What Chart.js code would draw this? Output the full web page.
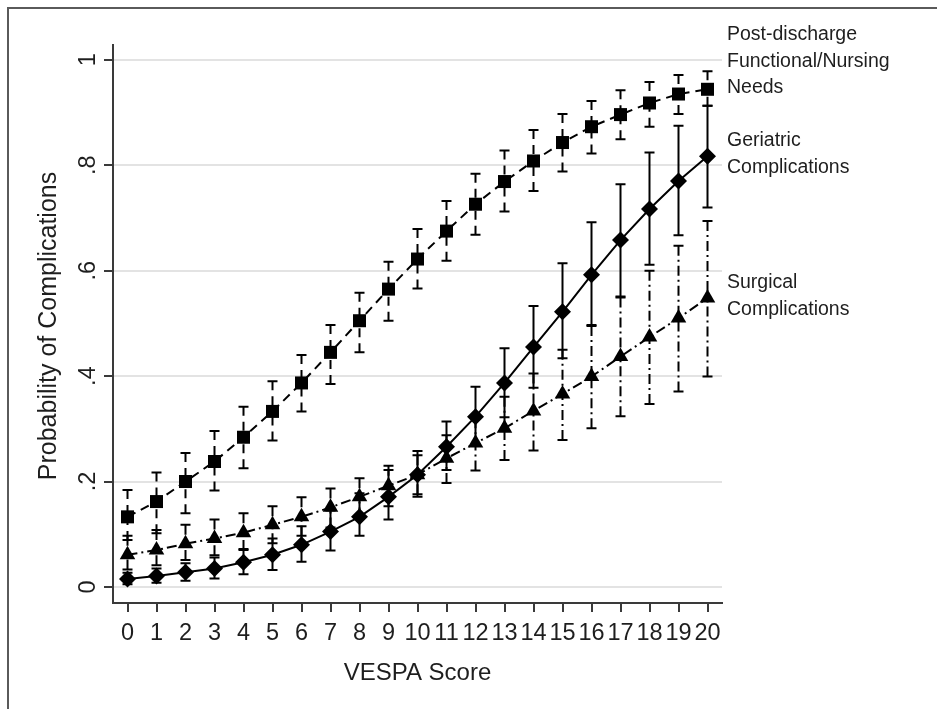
<!DOCTYPE html>
<html><head><meta charset="utf-8">
<script src="https://cdn.jsdelivr.net/npm/chart.js@4/dist/chart.umd.min.js"></script>
<style>html,body{margin:0;padding:0;background:#fff;}canvas{display:block;}</style>
</head><body>
<canvas id="c" width="937" height="709"></canvas>
<script>
// ---- data ----
const scores = [0,1,2,3,4,5,6,7,8,9,10,11,12,13,14,15,16,17,18,19,20];
const xTickLabels = scores.map(String);
const yTickValues = [0, 0.2, 0.4, 0.6, 0.8, 1];
const yTickLabels = ['0', '.2', '.4', '.6', '.8', '1'];
const xTitle = 'VESPA Score';
const yTitle = 'Probability of Complications';
const seriesLabels = [
  ['Post-discharge', 'Functional/Nursing', 'Needs'],
  ['Geriatric', 'Complications'],
  ['Surgical', 'Complications']
];

// Post-discharge functional / nursing needs (squares)
const needsEst = [0.133,0.162,0.200,0.238,0.284,0.333,0.387,0.445,0.505,0.565,0.622,0.675,0.726,0.769,0.808,0.843,0.873,0.896,0.918,0.935,0.944];
const needsLo  = [0.089,0.102,0.140,0.183,0.225,0.278,0.333,0.385,0.445,0.505,0.566,0.619,0.668,0.712,0.751,0.788,0.822,0.849,0.873,0.897,0.913];
const needsHi  = [0.184,0.217,0.254,0.296,0.342,0.390,0.440,0.497,0.558,0.617,0.679,0.732,0.784,0.828,0.867,0.897,0.922,0.942,0.958,0.971,0.978];

// Geriatric complications (diamonds)
const geriEst = [0.015,0.021,0.028,0.035,0.047,0.061,0.080,0.105,0.133,0.171,0.213,0.266,0.323,0.387,0.455,0.522,0.592,0.658,0.717,0.770,0.817];
const geriLo  = [0.005,0.008,0.012,0.016,0.024,0.032,0.048,0.069,0.097,0.128,0.171,0.222,0.270,0.322,0.378,0.434,0.497,0.551,0.611,0.667,0.720];
const geriHi  = [0.027,0.035,0.045,0.056,0.072,0.092,0.115,0.145,0.178,0.222,0.258,0.314,0.380,0.453,0.533,0.614,0.692,0.764,0.824,0.875,0.913];

// Surgical complications (triangles)
const surgEst = [0.061,0.070,0.082,0.092,0.103,0.118,0.133,0.151,0.171,0.192,0.213,0.244,0.273,0.301,0.334,0.366,0.399,0.437,0.474,0.510,0.548];
const surgLo  = [0.033,0.041,0.051,0.060,0.070,0.083,0.097,0.113,0.132,0.153,0.176,0.197,0.221,0.241,0.259,0.279,0.301,0.324,0.347,0.371,0.399];
const surgHi  = [0.097,0.108,0.118,0.128,0.140,0.153,0.170,0.187,0.206,0.230,0.250,0.288,0.320,0.361,0.405,0.450,0.495,0.549,0.600,0.647,0.694];

// ---- styling ----
const FONT = '"Liberation Sans", Arial, Helvetica, sans-serif';
const INK = '#1e1e1e';
const AXIS = '#3a3a3a';
const needsDash = [9, 6];
const surgDash = [10, 4, 2, 4];

const pts = arr => scores.map((s, i) => ({x: s, y: arr[i]}));

const errorBars = {
  id: 'errorBars',
  beforeDatasetsDraw(chart) {
    const {ctx, scales: {x, y}} = chart;
    const specs = [
      {est: needsEst, lo: needsLo, hi: needsHi, dash: needsDash},
      {est: geriEst, lo: geriLo, hi: geriHi, dash: []},
      {est: surgEst, lo: surgLo, hi: surgHi, dash: surgDash}
    ];
    ctx.save();
    ctx.strokeStyle = '#000';
    ctx.lineWidth = 2;
    specs.forEach(sp => {
      scores.forEach((s, i) => {
        const px = x.getPixelForValue(s);
        const pe = y.getPixelForValue(sp.est[i]);
        const pl = y.getPixelForValue(sp.lo[i]);
        const ph = y.getPixelForValue(sp.hi[i]);
        ctx.setLineDash([]);
        ctx.beginPath();
        ctx.moveTo(px - 5, ph); ctx.lineTo(px + 5, ph);
        ctx.moveTo(px - 5, pl); ctx.lineTo(px + 5, pl);
        ctx.stroke();
        ctx.setLineDash(sp.dash);
        ctx.beginPath(); ctx.moveTo(px, ph); ctx.lineTo(px, pe); ctx.stroke();
        ctx.beginPath(); ctx.moveTo(px, pl); ctx.lineTo(px, pe); ctx.stroke();
      });
    });
    ctx.restore();
  }
};

const decorations = {
  id: 'decorations',
  afterDraw(chart) {
    const {ctx, scales: {x, y}, chartArea: ca} = chart;
    ctx.save();
    // outer frame
    ctx.strokeStyle = '#5a5a5a';
    ctx.lineWidth = 2;
    ctx.setLineDash([]);
    ctx.beginPath();
    ctx.moveTo(8, 709); ctx.lineTo(8, 8); ctx.lineTo(937, 8);
    ctx.stroke();

    // tick marks
    ctx.strokeStyle = AXIS;
    ctx.lineWidth = 2;
    ctx.beginPath();
    yTickValues.forEach(v => {
      const py = Math.round(y.getPixelForValue(v));
      ctx.moveTo(ca.left - 9, py); ctx.lineTo(ca.left, py);
    });
    scores.forEach(v => {
      const px = Math.round(x.getPixelForValue(v));
      ctx.moveTo(px, ca.bottom); ctx.lineTo(px, ca.bottom + 9);
    });
    ctx.stroke();

    ctx.fillStyle = INK;
    // x tick labels
    ctx.font = '23.5px ' + FONT;
    ctx.textAlign = 'center';
    ctx.textBaseline = 'alphabetic';
    scores.forEach((v, i) => {
      ctx.fillText(xTickLabels[i], x.getPixelForValue(v), 640);
    });
    // y tick labels (rotated)
    yTickValues.forEach((v, i) => {
      ctx.save();
      ctx.translate(95, y.getPixelForValue(v));
      ctx.rotate(-Math.PI / 2);
      ctx.fillText(yTickLabels[i], 0, 0);
      ctx.restore();
    });
    // axis titles
    ctx.font = '24px ' + FONT;
    ctx.fillText(xTitle, (ca.left + ca.right) / 2, 680);
    ctx.font = '25px ' + FONT;
    ctx.save();
    ctx.translate(56, (ca.top + ca.bottom) / 2 + 2);
    ctx.rotate(-Math.PI / 2);
    ctx.fillText(yTitle, 0, 0);
    ctx.restore();

    // series labels on the right
    ctx.font = '19.5px ' + FONT;
    ctx.textAlign = 'left';
    const firstBaselines = [40, 146, 288];
    const lineStep = 26.5;
    seriesLabels.forEach((lines, k) => {
      lines.forEach((t, j) => {
        ctx.fillText(t, 727, firstBaselines[k] + j * lineStep);
      });
    });
    ctx.restore();
  }
};

new Chart(document.getElementById('c').getContext('2d'), {
  type: 'line',
  data: {
    datasets: [
      {
        label: seriesLabels[0].join(' '),
        data: pts(needsEst),
        borderColor: '#000', borderWidth: 2, borderDash: needsDash,
        pointStyle: 'rect', pointRadius: 9.2,
        pointBackgroundColor: '#000', pointBorderColor: '#000', pointBorderWidth: 0,
        tension: 0, fill: false
      },
      {
        label: seriesLabels[1].join(' '),
        data: pts(geriEst),
        borderColor: '#000', borderWidth: 2,
        pointStyle: 'rectRot', pointRadius: 8.5,
        pointBackgroundColor: '#000', pointBorderColor: '#000', pointBorderWidth: 0,
        tension: 0, fill: false
      },
      {
        label: seriesLabels[2].join(' '),
        data: pts(surgEst),
        borderColor: '#000', borderWidth: 2, borderDash: surgDash,
        pointStyle: 'triangle', pointRadius: 9,
        pointBackgroundColor: '#000', pointBorderColor: '#000', pointBorderWidth: 0,
        tension: 0, fill: false
      }
    ]
  },
  options: {
    responsive: false,
    animation: false,
    events: [],
    layout: {padding: {left: 113, top: 45, right: 215, bottom: 106}},
    plugins: {legend: {display: false}, tooltip: {enabled: false}},
    scales: {
      x: {
        type: 'linear', min: -0.5, max: 20.5,
        grid: {display: false, drawTicks: false},
        border: {display: true, color: AXIS, width: 2},
        ticks: {display: false},
        afterBuildTicks(s) { s.ticks = scores.map(v => ({value: v})); },
        afterFit(s) { s.height = 0; }
      },
      y: {
        type: 'linear', min: -0.0304, max: 1.028,
        grid: {color: '#e3e3e3', lineWidth: 2, drawTicks: false},
        border: {display: true, color: AXIS, width: 2},
        ticks: {display: false},
        afterBuildTicks(s) { s.ticks = yTickValues.map(v => ({value: v})); },
        afterFit(s) { s.width = 0; }
      }
    }
  },
  plugins: [errorBars, decorations]
});
</script>
</body></html>
